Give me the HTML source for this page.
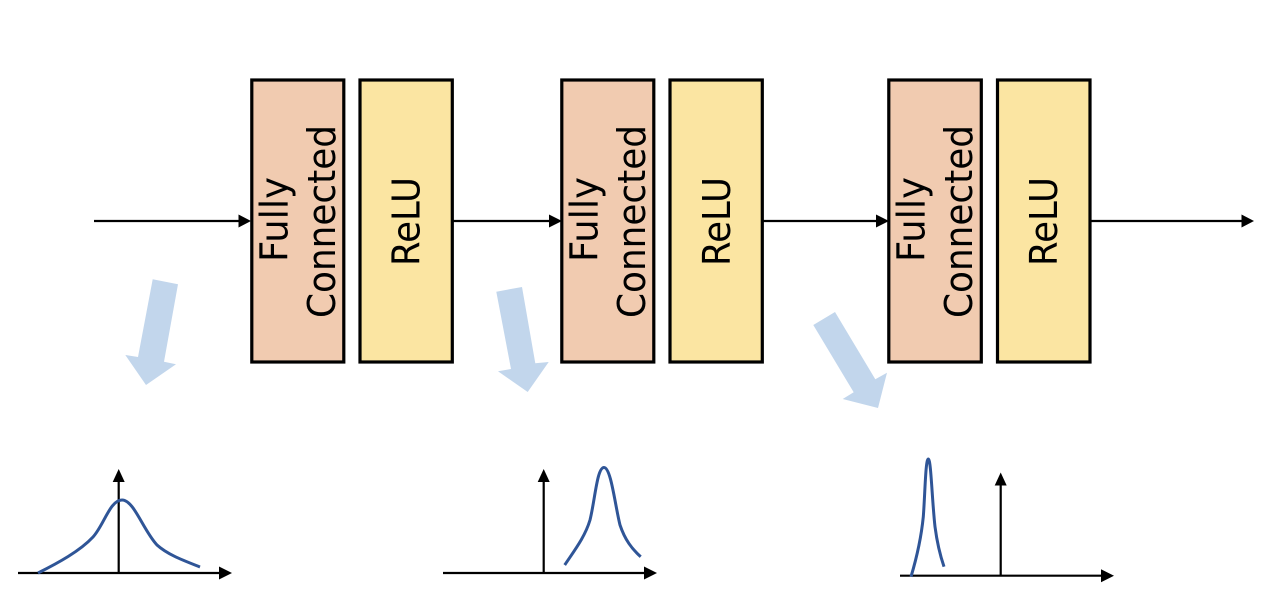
<!DOCTYPE html>
<html>
<head>
<meta charset="utf-8">
<style>
html,body{margin:0;padding:0;background:#fff;width:1278px;height:596px;overflow:hidden}
svg{display:block}
text{font-family:"DejaVu Sans","Liberation Sans",sans-serif;font-size:38px;fill:#000}
</style>
</head>
<body>
<svg width="1278" height="596" viewBox="0 0 1278 596" xmlns="http://www.w3.org/2000/svg">
<defs>
<g id="lbl">
<text transform="translate(287.3 262) rotate(-90)" textLength="85" lengthAdjust="spacingAndGlyphs">Fully</text>
<text transform="translate(335 318) rotate(-90)" textLength="193" lengthAdjust="spacingAndGlyphs">Connected</text>
</g>
</defs>
<g fill="#f1cbb0" stroke="#000" stroke-width="3.200">
<rect x="251.800" y="80" width="92" height="282"/>
<rect x="561.800" y="80" width="92" height="282"/>
<rect x="888.800" y="80" width="92.500" height="282"/>
</g>
<g fill="#fbe5a2" stroke="#000" stroke-width="3.200">
<rect x="360" y="80" width="92.300" height="282"/>
<rect x="670" y="80" width="92.300" height="282"/>
<rect x="997.500" y="80" width="92.500" height="282"/>
</g>
<use href="#lbl"/>
<use href="#lbl" x="310"/>
<use href="#lbl" x="637"/>
<text transform="translate(419.500 266) rotate(-90)" textLength="89" lengthAdjust="spacingAndGlyphs">ReLU</text>
<text transform="translate(730 266) rotate(-90)" textLength="89" lengthAdjust="spacingAndGlyphs">ReLU</text>
<text transform="translate(1057 266) rotate(-90)" textLength="89" lengthAdjust="spacingAndGlyphs">ReLU</text>

<g stroke="#000" stroke-width="2.200" fill="none">
<path d="M94 221H240M453 221H550M763 221H878M1091 221H1243"/>
</g>
<g fill="#000">
<path d="M238.500 214.500L251 221L238.500 227.500Z"/>
<path d="M549 214.500L562 221L549 227.500Z"/>
<path d="M876 214.500L889 221L876 227.500Z"/>
<path d="M1241.500 214.500L1254 221L1241.500 227.500Z"/>
</g>

<g fill="#c2d6ec">
<path d="M152.700 279.300L178 284.300L164 361.700L176 364.300L146 385L125.300 355L138 357Z"/>
<path d="M496.300 291.700L522 287L535.300 363.300L548.700 362L527.700 392L498 371.300L511 369Z"/>
<path d="M813.300 325L835 312L875.300 379.300L887 372.700L878 408L842.700 399L853.700 392.300Z"/>
</g>

<g stroke="#000" stroke-width="2.200" fill="none">
<path d="M18 573H221M118.700 573V480"/>
<path d="M443 573H646M543.700 573V480"/>
<path d="M900 575.700H1103M1000.700 575.700V483"/>
</g>
<g fill="#000">
<path d="M219 566.500L232 573L219 579.500Z"/>
<path d="M112.700 482L118.700 469L124.700 482Z"/>
<path d="M644 566.500L657 573L644 579.500Z"/>
<path d="M537.700 482L543.700 469L549.700 482Z"/>
<path d="M1101 569.200L1114 575.700L1101 582.200Z"/>
<path d="M994.700 485.500L1000.700 472.500L1006.700 485.500Z"/>
</g>

<g stroke="#2f5597" stroke-width="3" fill="none" stroke-linecap="butt">
<path d="M38 573C58 563 80 551 93 537C104 525 110 500 122 500C134 500 143 530 157 545C168 555 185 561 200 567"/>
<path d="M564.700 565C574 551 585 537 590 520C595 500 597 467.500 604 467.500C611 467.500 615 505 620 525C625 540 632 549 640.700 556.700"/>
<path d="M911 576.700C916 560 921 540 923.300 516.700C925 495 925.500 459 928.300 459C931 459 932 500 935 526.700C937 542 940 555 944 566.700"/>
</g>
</svg>
</body>
</html>
